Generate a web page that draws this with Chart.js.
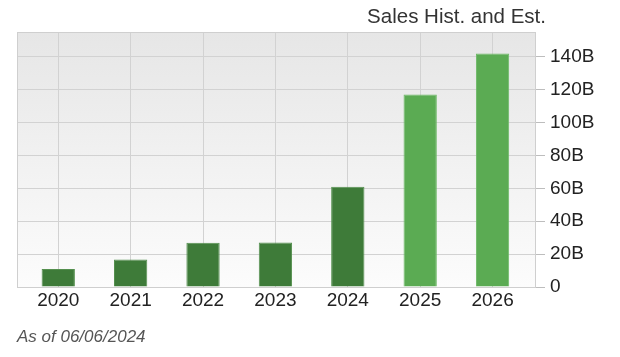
<!DOCTYPE html>
<html>
<head>
<meta charset="utf-8">
<script src="https://cdn.jsdelivr.net/npm/chart.js@4/dist/chart.umd.min.js"></script>
<style>
  html, body { margin: 0; padding: 0; background: #ffffff; }
  #wrap { position: relative; width: 620px; height: 357px; overflow: hidden; }
  #c { position: absolute; left: 0; top: 0; }
  #title { position: absolute; right: 74px; top: 4px; font-family: "Liberation Sans", Arial, sans-serif; font-size: 20.5px; color: #333; white-space: nowrap; }
  #foot { position: absolute; left: 17px; top: 327px; font-family: "Liberation Sans", Arial, sans-serif; font-size: 17px; font-style: italic; color: #555; white-space: nowrap; }
</style>
</head>
<body>
<div id="wrap">
  <canvas id="c" width="620" height="357"></canvas>
  <div id="title">Sales Hist. and Est.</div>
  <div id="foot">As of 06/06/2024</div>
</div>
<script>
const categories = ["2020", "2021", "2022", "2023", "2024", "2025", "2026"];
const salesBillions = [10.9, 16.7, 26.9, 27.0, 60.9, 117.0, 142.0];
const isEstimate = [false, false, false, false, false, true, true];
const yTickValues = [0, 20, 40, 60, 80, 100, 120, 140];

const HIST_COLOR = "#3e7b39";
const EST_COLOR = "#5bab53";

const plotBg = {
  id: "plotBg",
  beforeDraw(chart) {
    const { ctx, chartArea: a } = chart;
    const g = ctx.createLinearGradient(0, a.top, 0, a.bottom);
    g.addColorStop(0, "#e6e6e6");
    g.addColorStop(1, "#fcfcfc");
    ctx.save();
    ctx.fillStyle = g;
    ctx.fillRect(a.left, a.top, a.right - a.left, a.bottom - a.top);
    ctx.restore();
  },
  beforeDatasetsDraw(chart) {
    const { ctx, chartArea: a } = chart;
    ctx.save();
    ctx.strokeStyle = "#cfcfcf";
    ctx.lineWidth = 1;
    ctx.strokeRect(Math.round(a.left) + 0.5, Math.round(a.top) + 0.5, Math.round(a.right - a.left) - 1, Math.round(a.bottom - a.top));
    ctx.restore();
  }
};

new Chart(document.getElementById("c"), {
  type: "bar",
  data: {
    datasets: [{
      label: "Sales",
      data: salesBillions.map((v, i) => ({ x: i, y: v })),
      backgroundColor: isEstimate.map(e => e ? EST_COLOR : HIST_COLOR),
      borderColor: isEstimate.map(e => e ? "#6cb965" : "#55904f"),
      borderWidth: 1,
      barPercentage: 0.46,
      categoryPercentage: 1.0
    }]
  },
  options: {
    responsive: false,
    animation: false,
    events: [],
    layout: { padding: { left: 17, top: 32, right: 0, bottom: 0 } },
    plugins: { legend: { display: false }, title: { display: false }, tooltip: { enabled: false } },
    scales: {
      x: {
        type: "linear",
        offset: false,
        min: -0.57,
        max: 6.6,
        afterBuildTicks(scale) { scale.ticks = categories.map((c, i) => ({ value: i })); },
        afterFit(scale) { scale.height = 70; },
        grid: { color: "#d2d2d2", drawTicks: false, lineWidth: 1, offset: false },
        border: { display: false },
        ticks: {
          padding: 2,
          maxRotation: 0,
          autoSkip: false,
          color: "#222",
          font: { family: "'Liberation Sans', Arial, sans-serif", size: 19 },
          callback: (v) => categories[v]
        }
      },
      y: {
        position: "right",
        min: 0,
        max: 155,
        afterBuildTicks(scale) { scale.ticks = yTickValues.map(v => ({ value: v })); },
        afterFit(scale) { scale.width = 84; },
        grid: { color: "#d2d2d2", tickColor: "#bdbdbd", tickLength: 9, drawTicks: true },
        border: { display: false },
        ticks: {
          padding: 5,
          color: "#222",
          font: { family: "'Liberation Sans', Arial, sans-serif", size: 19 },
          callback: (v) => v === 0 ? "0" : v + "B"
        }
      }
    }
  },
  plugins: [plotBg]
});
</script>
</body>
</html>
